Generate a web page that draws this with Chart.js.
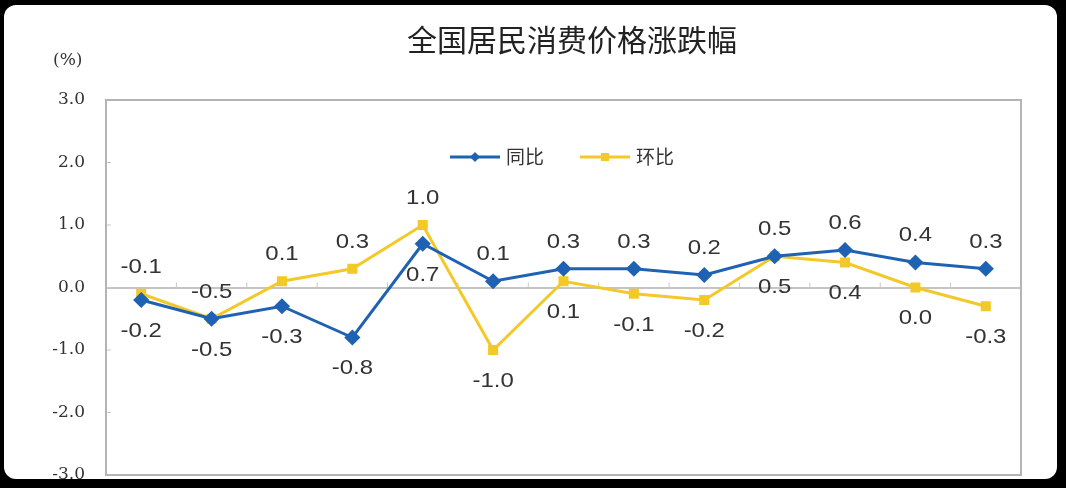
<!DOCTYPE html>
<html>
<head>
<meta charset="utf-8">
<script src="https://cdn.jsdelivr.net/npm/chart.js@4.4.1/dist/chart.umd.min.js"></script>
<style>
  html, body { margin: 0; padding: 0; background: #000; width: 1066px; height: 488px; overflow: hidden; }
  #frame { position: absolute; left: 4px; top: 5px; width: 1053px; height: 474px; background: #fff; border-radius: 12px; }
  #wrap { position: absolute; left: 0; top: 0; width: 1066px; height: 488px; }
</style>
</head>
<body>
<div id="frame"></div>
<div id="wrap"><canvas id="c" width="1066" height="488"></canvas></div>
<script>
const chartTitle = '全国居民消费价格涨跌幅';
const unitLabel = '(%)';
const categories = ['1', '2', '3', '4', '5', '6', '7', '8', '9', '10', '11', '12', '13'];
const seriesNames = ['同比', '环比'];
const yoyValues = [-0.2, -0.5, -0.3, -0.8, 0.7, 0.1, 0.3, 0.3, 0.2, 0.5, 0.6, 0.4, 0.3];
const momValues = [-0.1, -0.5, 0.1, 0.3, 1.0, -1.0, 0.1, -0.1, -0.2, 0.5, 0.4, 0.0, -0.3];
const yTicks = [-3.0, -2.0, -1.0, 0.0, 1.0, 2.0, 3.0];

const BLUE = '#1f62b3';
const YELLOW = '#f2c928';
const seriesValues = [yoyValues, momValues];

function labelAbove(dsIndex, i) {
  const mine = seriesValues[dsIndex][i];
  const other = seriesValues[1 - dsIndex][i];
  if (mine !== other) return mine > other;
  // tie: 同比 above when non-negative, 环比 above when negative
  return dsIndex === 0 ? mine >= 0 : mine < 0;
}

function stretchedText(ctx, text, x, y, sx) {
  ctx.save();
  ctx.translate(x, y);
  ctx.scale(sx, 1);
  ctx.fillText(text, 0, 0);
  ctx.restore();
}

const decorPlugin = {
  id: 'decor',
  beforeDatasetsDraw(chart) {
    const { ctx, chartArea: a, scales } = chart;
    ctx.save();
    const x = scales.x, y = scales.y;
    const y0 = y.getPixelForValue(0);
    ctx.strokeStyle = '#c8c8c8';
    ctx.lineWidth = 1;
    for (let i = 1; i < categories.length; i++) {
      const bx = (x.getPixelForValue(i - 1) + x.getPixelForValue(i)) / 2;
      ctx.beginPath();
      ctx.moveTo(bx, y0);
      ctx.lineTo(bx, y0 - 5);
      ctx.stroke();
    }
    yTicks.forEach(v => {
      const py = y.getPixelForValue(v);
      ctx.beginPath();
      ctx.moveTo(a.left, py);
      ctx.lineTo(a.left + 5, py);
      ctx.stroke();
    });
    ctx.strokeStyle = '#b4b4b4';
    ctx.lineWidth = 2;
    ctx.strokeRect(a.left, a.top, a.right - a.left, a.bottom - a.top);
    ctx.restore();
  },
  afterDatasetsDraw(chart) {
    const { ctx } = chart;
    ctx.save();
    ctx.font = '21px "Liberation Sans", Arial, sans-serif';
    ctx.fillStyle = '#333';
    ctx.textAlign = 'center';
    ctx.textBaseline = 'middle';
    chart.data.datasets.forEach((ds, di) => {
      const meta = chart.getDatasetMeta(di);
      meta.data.forEach((pt, i) => {
        const v = ds.data[i];
        const above = labelAbove(di, i);
        const ty = above ? pt.y - 27 : pt.y + 31;
        stretchedText(ctx, v.toFixed(1), pt.x, ty, 1.14);
      });
    });
    // legend
    const ly = 157;
    const items = [
      { name: seriesNames[0], color: BLUE, style: 'diamond', x: 450 },
      { name: seriesNames[1], color: YELLOW, style: 'square', x: 580 }
    ];
    items.forEach(it => {
      ctx.strokeStyle = it.color;
      ctx.lineWidth = 3;
      ctx.beginPath();
      ctx.moveTo(it.x, ly);
      ctx.lineTo(it.x + 50, ly);
      ctx.stroke();
      ctx.fillStyle = it.color;
      const cx = it.x + 25;
      if (it.style === 'diamond') {
        ctx.beginPath();
        ctx.moveTo(cx, ly - 5); ctx.lineTo(cx + 5, ly); ctx.lineTo(cx, ly + 5); ctx.lineTo(cx - 5, ly);
        ctx.closePath(); ctx.fill();
      } else {
        ctx.fillRect(cx - 4, ly - 4, 8, 8);
      }
      ctx.fillStyle = '#333';
      ctx.textAlign = 'left';
      ctx.font = '19px "Noto Sans CJK SC", sans-serif';
      ctx.fillText(it.name, it.x + 56, ly);
    });
    // title and unit
    ctx.textAlign = 'center';
    ctx.fillStyle = '#222';
    ctx.font = '30px "Noto Sans CJK SC", sans-serif';
    ctx.fillText(chartTitle, 572, 40);
    ctx.textAlign = 'left';
    ctx.fillStyle = '#333';
    ctx.font = '17px "DejaVu Serif", serif';
    ctx.fillText(unitLabel, 53, 61);
    ctx.restore();
  }
};

new Chart(document.getElementById('c'), {
  type: 'line',
  data: {
    labels: categories,
    datasets: [
      {
        label: seriesNames[0],
        data: yoyValues,
        borderColor: BLUE,
        backgroundColor: BLUE,
        borderWidth: 3,
        pointStyle: 'rectRot',
        pointRadius: 6,
        pointHoverRadius: 6,
        tension: 0
      },
      {
        label: seriesNames[1],
        data: momValues,
        borderColor: YELLOW,
        backgroundColor: YELLOW,
        borderWidth: 3,
        pointStyle: 'rect',
        pointRadius: 5,
        pointHoverRadius: 5,
        tension: 0
      }
    ]
  },
  options: {
    responsive: false,
    animation: false,
    events: [],
    layout: { padding: { left: 0, right: 45, top: 100, bottom: 13 } },
    plugins: {
      legend: { display: false },
      title: { display: false },
      tooltip: { enabled: false }
    },
    scales: {
      x: {
        type: 'category',
        offset: true,
        display: false
      },
      y: {
        min: -3,
        max: 3,
        afterBuildTicks(scale) { scale.ticks = yTicks.map(v => ({ value: v })); },
        afterFit(scale) { scale.width = 106; scale.paddingTop = 0; scale.paddingBottom = 0; },
        border: { display: false },
        grid: {
          drawTicks: false,
          lineWidth: 2,
          color: ctx => (ctx.tick && ctx.tick.value === 0 ? '#c4c4c4' : 'rgba(0,0,0,0)')
        },
        ticks: {
          padding: 21,
          color: '#333',
          font: { family: '"DejaVu Serif", serif', size: 17 },
          callback: v => Number(v).toFixed(1)
        }
      }
    }
  },
  plugins: [decorPlugin]
});
</script>
</body>
</html>
